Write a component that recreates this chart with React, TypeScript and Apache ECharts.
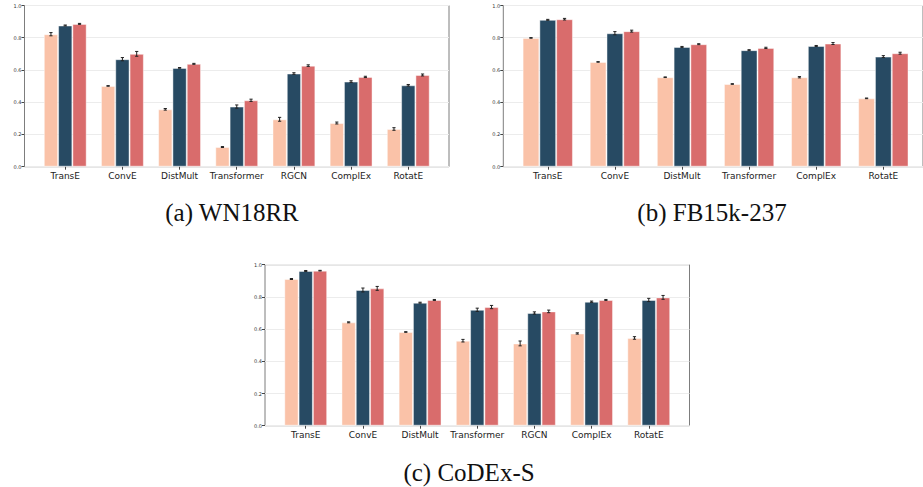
import React, { useEffect, useRef } from "react";
import * as echarts from "echarts";

// ---------- data ----------
const catsA = ["TransE", "ConvE", "DistMult", "Transformer", "RGCN", "ComplEx", "RotatE"];
const a1 = [0.822, 0.501, 0.356, 0.122, 0.294, 0.271, 0.234];
const a2 = [0.876, 0.667, 0.613, 0.373, 0.578, 0.528, 0.505];
const a3 = [0.886, 0.700, 0.638, 0.412, 0.627, 0.557, 0.569];
const ae1 = [0.010, 0.002, 0.005, 0.003, 0.012, 0.006, 0.008];
const ae2 = [0.003, 0.010, 0.002, 0.010, 0.005, 0.005, 0.005];
const ae3 = [0.003, 0.015, 0.003, 0.007, 0.005, 0.004, 0.006];

const catsB = ["TransE", "ConvE", "DistMult", "Transformer", "ComplEx", "RotatE"];
const b1 = [0.799, 0.650, 0.555, 0.513, 0.555, 0.424];
const b2 = [0.911, 0.828, 0.743, 0.723, 0.749, 0.683];
const b3 = [0.915, 0.841, 0.760, 0.737, 0.764, 0.704];
const be1 = [0.002, 0.002, 0.002, 0.002, 0.004, 0.002];
const be2 = [0.003, 0.010, 0.003, 0.003, 0.003, 0.006];
const be3 = [0.005, 0.006, 0.003, 0.004, 0.006, 0.006];

const catsC = ["TransE", "ConvE", "DistMult", "Transformer", "RGCN", "ComplEx", "RotatE"];
const c1 = [0.911, 0.642, 0.582, 0.528, 0.511, 0.573, 0.545];
const c2 = [0.961, 0.843, 0.764, 0.720, 0.700, 0.770, 0.781];
const c3 = [0.963, 0.853, 0.781, 0.737, 0.710, 0.781, 0.797];
const ce1 = [0.003, 0.003, 0.002, 0.008, 0.015, 0.004, 0.008];
const ce2 = [0.003, 0.012, 0.003, 0.010, 0.007, 0.004, 0.010];
const ce3 = [0.002, 0.012, 0.003, 0.010, 0.008, 0.003, 0.012];

const seriesNames = ["Series 1", "Series 2", "Series 3"];
const yTicks = [0, 0.2, 0.4, 0.6, 0.8, 1.0];
const captions = ["(a) WN18RR", "(b) FB15k-237", "(c) CoDEx-S"];

// ---------- styling ----------
const COLORS = ["#fac2a8", "#274a63", "#d96c6c"];
const FRAME_W = 424.5;

function buildPanel(
  gridBase: number,
  cats: string[],
  vals: number[][],
  errs: number[][],
  frameLeft: number,
  frameTop: number,
  frameH: number
) {
  const n = cats.length;
  const spacing = FRAME_W / (1.1 * (n - 0.25));
  const firstCenter = frameLeft + (0.375 + 0.05 * (n - 0.25)) * spacing;
  const bandLeft = firstCenter - spacing / 2;
  const barW = spacing * 0.25;

  const grids = [
    {
      left: frameLeft,
      top: frameTop,
      width: FRAME_W,
      height: frameH,
      show: true,
      borderColor: "#7d7d7d",
      borderWidth: 1,
      backgroundColor: "transparent",
    },
    { left: bandLeft, top: frameTop, width: n * spacing, height: frameH },
  ];

  const xAxes = [
    { gridIndex: gridBase, type: "value", min: 0, max: 1, show: false },
    {
      gridIndex: gridBase + 1,
      type: "category",
      data: cats,
      axisLine: { show: false },
      axisTick: { show: true, alignWithLabel: true, length: 3, lineStyle: { color: "#444" } },
      axisLabel: { fontSize: 9, color: "#222", margin: 5, fontFamily: "DejaVu Sans", interval: 0 },
      splitLine: { show: false },
    },
  ];

  const yAxes = [
    {
      gridIndex: gridBase,
      type: "value",
      min: 0,
      max: 1,
      interval: 0.2,
      axisLine: { show: false },
      axisTick: { show: true, length: 3, lineStyle: { color: "#444" } },
      axisLabel: {
        fontSize: 5,
        color: "#333",
        margin: 3,
        fontFamily: "DejaVu Sans",
        formatter: (v: number) => (yTicks.includes(+v.toFixed(1)) ? v.toFixed(1) : ""),
      },
      splitLine: { show: true, lineStyle: { color: "#ececec", width: 1 } },
    },
    { gridIndex: gridBase + 1, type: "value", min: 0, max: 1, show: false },
  ];

  const series: any[] = [];
  vals.forEach((v, k) => {
    series.push({
      type: "bar",
      name: seriesNames[k],
      xAxisIndex: gridBase + 1,
      yAxisIndex: gridBase + 1,
      data: v,
      barWidth: barW,
      barGap: "0%",
      itemStyle: { color: COLORS[k], borderColor: "rgba(255,255,255,0.45)", borderWidth: 1 },
      z: 2,
    });
  });
  vals.forEach((v, k) => {
    series.push({
      type: "custom",
      xAxisIndex: gridBase + 1,
      yAxisIndex: gridBase + 1,
      z: 5,
      data: v.map((val, i) => [i, val, errs[k][i]]),
      encode: { x: 0, y: 1 },
      renderItem: (params: any, api: any) => {
        const i = api.value(0);
        const val = api.value(1);
        const e = api.value(2);
        const band = api.size([1, 0])[0];
        const bw = band * 0.25;
        const x = api.coord([i, val])[0] + (k - 1) * bw;
        const yHi = api.coord([i, val + e])[1];
        const yLo = api.coord([i, val - e])[1];
        const cap = 1.6;
        const st = { stroke: "#222", lineWidth: 1 };
        return {
          type: "group",
          children: [
            { type: "line", shape: { x1: x, y1: yHi, x2: x, y2: yLo }, style: st },
            { type: "line", shape: { x1: x - cap, y1: yHi, x2: x + cap, y2: yHi }, style: st },
            { type: "line", shape: { x1: x - cap, y1: yLo, x2: x + cap, y2: yLo }, style: st },
          ],
        };
      },
    });
  });

  return { grids, xAxes, yAxes, series };
}

export default function App() {
  const ref = useRef<HTMLDivElement>(null);
  useEffect(() => {
    if (!ref.current) return;
    const chart = echarts.init(ref.current, undefined, { renderer: "svg" });
    const pA = buildPanel(0, catsA, [a1, a2, a3], [ae1, ae2, ae3], 24.5, 5.5, 161.2);
    const pB = buildPanel(2, catsB, [b1, b2, b3], [be1, be2, be3], 503.3, 5.5, 161.2);
    const pC = buildPanel(4, catsC, [c1, c2, c3], [ce1, ce2, ce3], 265, 264.7, 161);
    const capStyle = { fontFamily: "Liberation Serif", fontSize: 25, fill: "#111", textAlign: "center", textVerticalAlign: "middle" };
    chart.setOption({
      animation: false,
      grid: [...pA.grids, ...pB.grids, ...pC.grids],
      xAxis: [...pA.xAxes, ...pB.xAxes, ...pC.xAxes],
      yAxis: [...pA.yAxes, ...pB.yAxes, ...pC.yAxes],
      series: [...pA.series, ...pB.series, ...pC.series],
      graphic: [
        { type: "text", x: 232, y: 212, style: { ...capStyle, text: captions[0] } },
        { type: "text", x: 712, y: 212, style: { ...capStyle, text: captions[1] } },
        { type: "text", x: 469, y: 472, style: { ...capStyle, text: captions[2] } },
      ],
    });
    return () => chart.dispose();
  }, []);
  return (
    <div
      ref={ref}
      style={{ position: "absolute", left: 0, top: 0, width: 923, height: 487, background: "#fff" }}
    />
  );
}
